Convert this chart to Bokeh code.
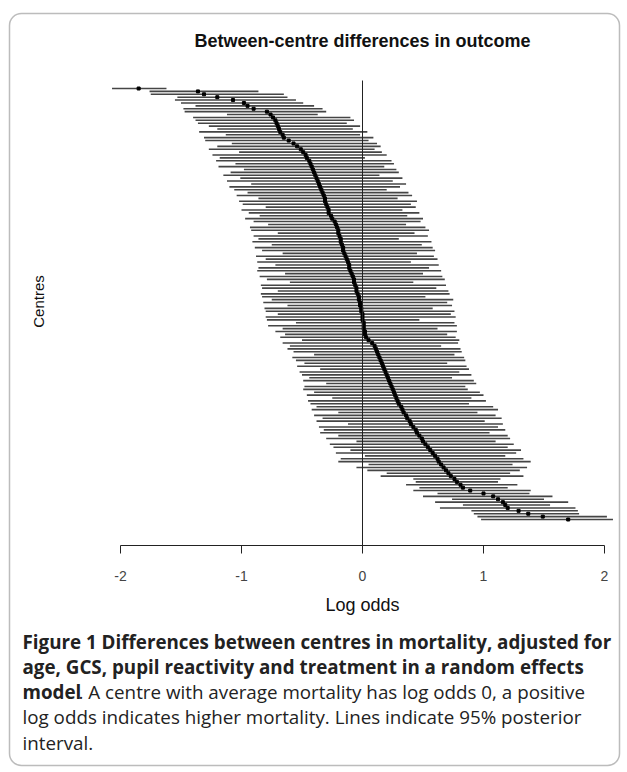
import math
from bokeh.plotting import figure
from bokeh.models import Range1d, LinearAxis, FixedTicker, Label, BoxAnnotation, ColumnDataSource, PrintfTickFormatter
from bokeh.embed import file_html
from bokeh.resources import INLINE

# ---- data: centres ranked by posterior median log odds (top = lowest) ----
median = [-1.85, -1.36, -1.31, -1.20, -1.07, -0.98, -0.95, -0.90, -0.79, -0.76,
          -0.74, -0.72, -0.71, -0.70, -0.69, -0.68, -0.66, -0.65, -0.61, -0.57,
          -0.54, -0.51, -0.49, -0.47, -0.46, -0.44, -0.43, -0.42, -0.41, -0.40,
          -0.39, -0.38, -0.37, -0.36, -0.35, -0.34, -0.33, -0.32, -0.31, -0.31,
          -0.30, -0.29, -0.28, -0.28, -0.26, -0.25, -0.23, -0.22, -0.21, -0.20,
          -0.20, -0.19, -0.18, -0.18, -0.17, -0.16, -0.16, -0.15, -0.14, -0.13,
          -0.12, -0.11, -0.11, -0.10, -0.09, -0.08, -0.07, -0.07, -0.06, -0.05,
          -0.05, -0.04, -0.03, -0.03, -0.02, -0.02, -0.01, -0.01, 0.00, 0.00,
          0.00, 0.01, 0.01, 0.01, 0.02, 0.02, 0.03, 0.05, 0.08, 0.10,
          0.11, 0.12, 0.13, 0.14, 0.15, 0.16, 0.17, 0.18, 0.19, 0.20,
          0.21, 0.22, 0.23, 0.24, 0.25, 0.26, 0.27, 0.28, 0.29, 0.30,
          0.32, 0.33, 0.34, 0.36, 0.37, 0.39, 0.40, 0.42, 0.44, 0.45,
          0.47, 0.49, 0.50, 0.52, 0.54, 0.56, 0.58, 0.60, 0.62, 0.63,
          0.65, 0.67, 0.69, 0.71, 0.73, 0.76, 0.78, 0.81, 0.83, 0.89,
          1.00, 1.08, 1.12, 1.16, 1.18, 1.20, 1.29, 1.37, 1.49, 1.70]

lower = [-2.07, -1.76, -1.75, -1.53, -1.55, -1.50, -1.38, -1.48, -1.47, -1.12,
         -1.40, -1.38, -1.36, -1.27, -1.20, -1.35, -1.13, -1.31, -1.30, -1.08,
         -1.20, -1.27, -1.02, -1.24, -1.18, -1.21, -1.05, -1.19, -0.98, -1.09,
         -1.15, -1.01, -1.12, -0.92, -1.10, -1.06, -0.95, -1.04, -0.86, -1.02,
         -0.99, -0.80, -1.00, -0.94, -0.85, -0.97, -0.90, -0.78, -0.93, -0.92,
         -0.70, -0.90, -0.86, -0.91, -0.75, -0.89, -0.83, -0.66, -0.88, -0.80,
         -0.87, -0.72, -0.86, -0.87, -0.64, -0.85, -0.79, -0.60, -0.84, -0.83,
         -0.70, -0.84, -0.83, -0.75, -0.82, -0.62, -0.81, -0.80, -0.70, -0.80,
         -0.79, -0.55, -0.78, -0.66, -0.72, -0.64, -0.68, -0.50, -0.66, -0.60,
         -0.62, -0.57, -0.40, -0.58, -0.55, -0.48, -0.54, -0.35, -0.52, -0.50,
         -0.44, -0.49, -0.30, -0.48, -0.49, -0.40, -0.46, -0.25, -0.45, -0.43,
         -0.38, -0.42, -0.20, -0.40, -0.33, -0.38, -0.12, -0.36, -0.32, -0.35,
         -0.20, -0.30, -0.05, -0.27, -0.24, -0.10, -0.22, 0.02, -0.18, -0.20,
         0.05, -0.05, 0.04, 0.20, 0.15, 0.42, 0.44, 0.36, 0.47, 0.42,
         0.62, 0.50, 0.74, 0.60, 0.83, 0.64, 0.90, 0.92, 0.95, 0.98]

upper = [-1.62, -0.86, -0.65, -0.62, -0.55, -0.49, -0.40, -0.33, -0.30, -0.37,
         -0.10, -0.07, -0.13, -0.02, -0.08, 0.04, -0.02, 0.09, 0.05, 0.12,
         0.15, 0.10, 0.16, 0.20, 0.02, 0.24, 0.26, 0.18, 0.28, 0.30,
         0.14, 0.33, 0.25, 0.36, 0.31, 0.20, 0.38, 0.41, 0.29, 0.45,
         0.40, 0.44, 0.33, 0.47, 0.37, 0.50, 0.48, 0.36, 0.52, 0.55,
         0.43, 0.54, 0.30, 0.57, 0.49, 0.58, 0.60, 0.45, 0.59, 0.62,
         0.40, 0.63, 0.55, 0.65, 0.50, 0.66, 0.68, 0.42, 0.69, 0.61,
         0.71, 0.72, 0.52, 0.75, 0.70, 0.74, 0.58, 0.76, 0.73, 0.77,
         0.47, 0.76, 0.78, 0.62, 0.78, 0.70, 0.77, 0.80, 0.79, 0.65,
         0.81, 0.82, 0.76, 0.84, 0.85, 0.70, 0.86, 0.88, 0.80, 0.90,
         0.74, 0.92, 0.94, 0.85, 0.87, 0.97, 1.00, 0.90, 1.02, 0.88,
         1.08, 1.12, 0.95, 1.10, 1.15, 1.01, 1.16, 1.12, 1.18, 1.05,
         1.20, 1.22, 1.10, 1.25, 1.20, 1.31, 1.27, 1.18, 1.33, 1.39,
         1.24, 1.36, 1.30, 1.22, 1.33, 1.14, 1.12, 1.28, 1.20, 1.39,
         1.38, 1.57, 1.50, 1.70, 1.55, 1.76, 1.78, 1.79, 2.02, 2.07]

rank = list(range(len(median)))
x_ticks = [-2, -1, 0, 1, 2]

title_text = "Between-centre differences in outcome"
x_label = "Log odds"
y_label = "Centres"
caption_bold_1 = "Figure 1 Differences between centres in mortality, adjusted for"
caption_bold_2 = "age, GCS, pupil reactivity and treatment in a random effects"
caption_bold_3 = "model"
caption_3 = ". A centre with average mortality has log odds 0, a positive"
caption_4 = "log odds indicates higher mortality. Lines indicate 95% posterior"
caption_5 = "interval."

# ---- layout (pixels on the page) ----
W, H = 627, 772
PX_M2, PX_P2 = 120, 604          # page x of -2 and +2
PY_FIRST, PY_LAST = 88, 519      # page y of first and last centre
PY_TOP, PY_AXIS = 80, 545        # plot region top / axis line

ppu = (PX_P2 - PX_M2) / 4.0
n = len(median)
ppr = (PY_LAST - PY_FIRST) / (n - 1)
x_start = -2 - PX_M2 / ppu
x_end = 2 + (W - PX_P2) / ppu
y_top = -PY_FIRST / ppr
y_bot = (n - 1) + (H - PY_LAST) / ppr
rank_axis = (n - 1) + (PY_AXIS - PY_LAST) / ppr
rank_top = (PY_TOP - PY_FIRST) / ppr

src = ColumnDataSource(dict(rank=rank, median=median, lower=lower, upper=upper))

p = figure(width=W, height=H, output_backend="svg", toolbar_location=None,
           x_axis_type=None, y_axis_type=None,
           x_range=Range1d(x_start, x_end), y_range=Range1d(y_bot, y_top),
           min_border=0)
p.outline_line_color = None
p.grid.visible = False
p.background_fill_color = "white"
p.border_fill_color = "white"

p.segment(x0="lower", x1="upper", y0="rank", y1="rank", source=src,
          line_color="#454545", line_width=1.6)
p.scatter(x="median", y="rank", source=src, marker="square", size=3,
          fill_color="black", line_color="black")

# reference line at log odds 0
p.segment(x0=[0], x1=[0], y0=[rank_top], y1=[rank_axis], line_color="#222222", line_width=1)

xaxis = LinearAxis(ticker=FixedTicker(ticks=x_ticks), bounds=(-2, 2), axis_label=x_label,
                   fixed_location=rank_axis, formatter=PrintfTickFormatter(format="%d"))
xaxis.major_tick_out = 8
xaxis.major_tick_in = 0
xaxis.minor_tick_out = 0
xaxis.minor_tick_in = 0
xaxis.axis_line_color = "#222222"
xaxis.major_tick_line_color = "#222222"
xaxis.major_label_standoff = 17
xaxis.major_label_text_font = "Liberation Sans"
xaxis.major_label_text_font_size = "14px"
xaxis.major_label_text_color = "#444444"
xaxis.axis_label_standoff = 11
xaxis.axis_label_text_font = "Liberation Sans"
xaxis.axis_label_text_font_size = "18px"
xaxis.axis_label_text_font_style = "normal"
xaxis.axis_label_text_color = "#111111"
p.add_layout(xaxis, "below")


def sy(py):
    return H - py


p.add_layout(BoxAnnotation(left=9, right=619, top=sy(13), bottom=sy(765),
                           left_units="screen", right_units="screen",
                           top_units="screen", bottom_units="screen",
                           fill_alpha=0, line_color="#222222", line_width=1.5,
                           border_radius=12))

p.add_layout(Label(x=362, y=sy(40), x_units="screen", y_units="screen",
                   text=title_text, text_font="Liberation Sans", text_font_size="18px",
                   text_font_style="bold", text_align="center", text_baseline="middle",
                   text_color="#111111"))
p.add_layout(Label(x=38, y=sy(301), x_units="screen", y_units="screen",
                   text=y_label, text_font="Liberation Sans", text_font_size="15px",
                   angle=math.pi / 2, text_align="center", text_baseline="middle",
                   text_color="#111111"))

cap_font = "Open Sans"
cap_size = "18.8px"
for txt, py, bold, px in [(caption_bold_1, 641, True, 22),
                          (caption_bold_2, 666, True, 22),
                          (caption_bold_3, 691, True, 22),
                          (caption_3, 691, False, 78),
                          (caption_4, 716, False, 22),
                          (caption_5, 742, False, 22)]:
    p.add_layout(Label(x=px, y=sy(py), x_units="screen", y_units="screen",
                       text=txt, text_font=cap_font, text_font_size=cap_size,
                       text_font_style="bold" if bold else "normal",
                       text_align="left", text_baseline="middle",
                       text_color="#222222"))

open("out.html", "w").write(file_html(p, INLINE))
